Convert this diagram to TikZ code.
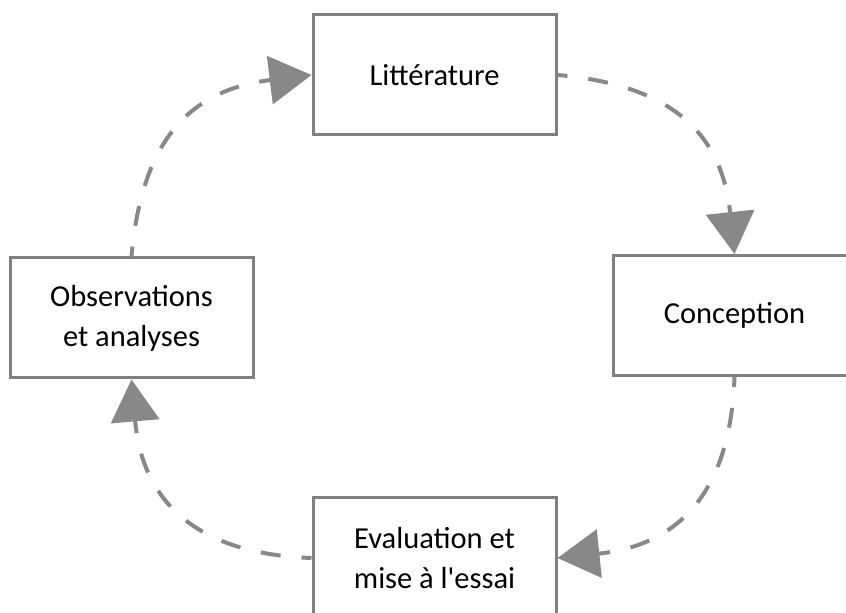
\documentclass[tikz,border=0pt]{standalone}
\usepackage{fontspec}
\setmainfont{Carlito}
\usetikzlibrary{arrows.meta}
\definecolor{boxgray}{RGB}{128,128,128}
\definecolor{linegray}{RGB}{136,136,136}

\begin{document}
\begin{tikzpicture}[x=1pt,y=1pt,
  stage/.style={draw=boxgray, line width=3pt, fill=white, minimum width=243pt,
    minimum height=120pt, align=center, font=\fontsize{30.5}{40}\selectfont},
  flow/.style={draw=linegray, line width=4pt, dash pattern=on 20pt off 21pt,
    dash phase=10pt, looseness=1.2,
    -{Triangle[length=42pt,width=48pt]}}]
  \useasboundingbox (0,0) rectangle (846,613);
  \clip (0,0) rectangle (846,613);

  % Stages of the cycle
  \node[stage] (lit) at (434.5,538) {Littérature};
  \node[stage] (conc) at (734.5,297.5) {Conception};
  \node[stage] (eval) at (434.5,55) {Evaluation et\\mise à l\textquotesingle essai};
  \node[stage] (obs) at (131.5,295) {Observations\\et analyses};

  % Dashed arrows between stages
  \draw[flow] (obs.north) to[out=85,in=187] (lit.west);
  \draw[flow] (lit.east) to[out=-5,in=96] (conc.north);
  \draw[flow] (conc.south) to[out=-92,in=6] (eval.east);
  \draw[flow] (eval.west) to[out=178,in=-85] (obs.south);
\end{tikzpicture}
\end{document}
